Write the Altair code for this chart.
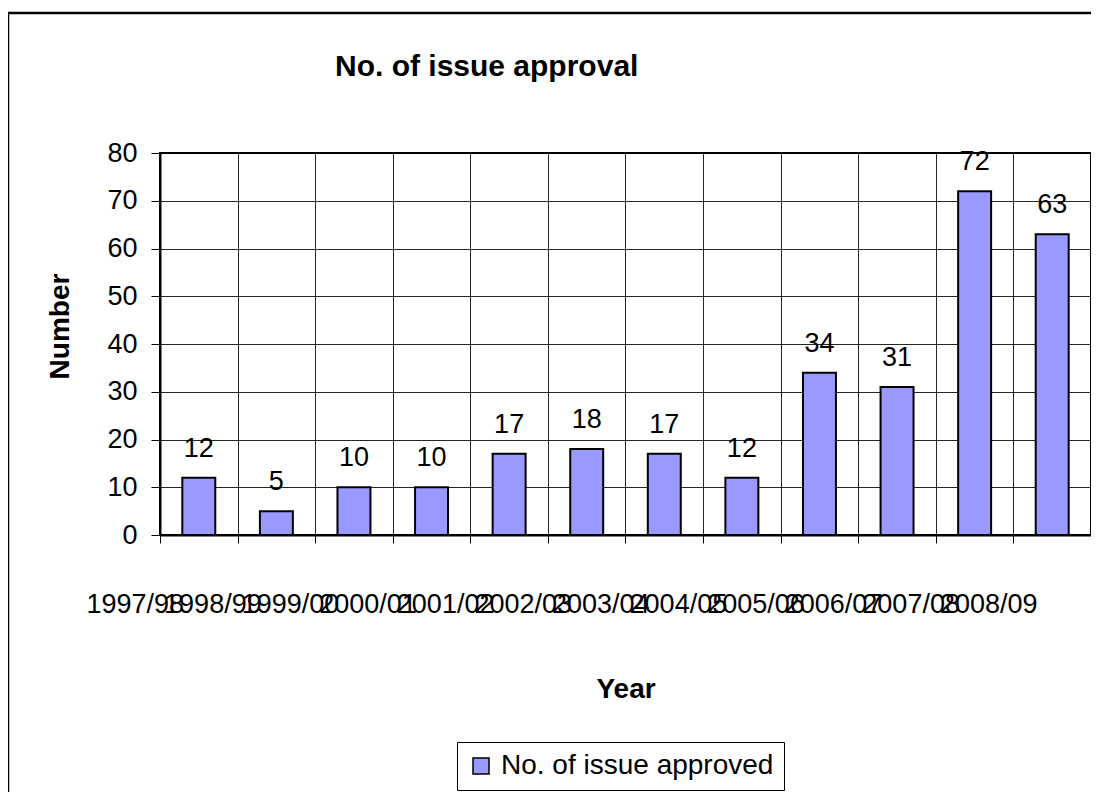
import altair as alt
import pandas as pd

# ---- data ----
years = ["1997/98", "1998/99", "1999/00", "2000/01", "2001/02", "2002/03",
         "2003/04", "2004/05", "2005/06", "2006/07", "2007/08", "2008/09"]
approvals = [12, 5, 10, 10, 17, 18, 17, 12, 34, 31, 72, 63]
series_name = "No. of issue approved"
y_ticks = [0, 10, 20, 30, 40, 50, 60, 70, 80]

df = pd.DataFrame({"Year": years, "Number": approvals, "Series": [series_name] * len(years)})
frame_df = pd.DataFrame({"k": [0]})

FONT = "Liberation Sans"
W, H = 931, 382

x_enc = alt.X(
    "Year:N", sort=years,
    scale=alt.Scale(paddingInner=0, paddingOuter=0),
    axis=alt.Axis(
        title="Year", tickBand="extent", labelAngle=0, labelOverlap=False,
        labelOffset=-64, labelPadding=69, labelBaseline="alphabetic",
        labelFontSize=27, tickSize=8, titleFontSize=28, titleFontWeight="bold",
        titleX=W / 2, titleY=162, titleBaseline="alphabetic", titleAlign="center",
        labelBound=False, labelFlush=False,
    ),
)
y_enc = alt.Y(
    "Number:Q",
    scale=alt.Scale(domain=[0, 80], nice=False),
    axis=alt.Axis(
        title="Number", values=y_ticks, labelFontSize=27, labelPadding=14, tickSize=9,
        titleFontSize=28, titleFontWeight="bold", titleX=-92, titleY=173,
        titleBaseline="alphabetic", titleAlign="center", titleAngle=270,
    ),
)

frame = alt.Chart(frame_df).mark_rect(
    fill="transparent", stroke="black", strokeWidth=2.5, clip=False
).encode(
    x=alt.value(-152), y=alt.value(-140), x2=alt.value(W + 40), y2=alt.value(H + 400)
)

bars = alt.Chart(df).mark_bar(
    width=alt.RelativeBandSize(0.425), stroke="black", strokeWidth=2
).encode(
    x=x_enc,
    y=y_enc,
    color=alt.Color(
        "Series:N",
        scale=alt.Scale(range=["#9999FF"]),
        legend=alt.Legend(
            title=None, orient="none", legendX=297, legendY=589,
            symbolType="square", symbolSize=256, symbolStrokeColor="black",
            symbolStrokeWidth=1.5, symbolFillColor="#9999FF",
            labelFontSize=28, labelFont=FONT, labelColor="black", labelOffset=6,
            strokeColor="black", padding=10, labelLimit=400,
        ),
    ),
)

labels = alt.Chart(df).mark_text(
    dy=-21, baseline="alphabetic", fontSize=27, font=FONT, color="black"
).encode(x=alt.X("Year:N", sort=years), y="Number:Q", text="Number:Q")

chart = alt.layer(frame, bars, labels).properties(
    width=W, height=H,
    title=alt.TitleParams(
        "No. of issue approval", anchor="start", frame="group", dx=175, offset=0, dy=94,
        baseline="alphabetic", fontSize=30, font=FONT, fontWeight="bold", color="black",
    ),
    autosize=alt.AutoSizeParams(type="none"),
    padding={"left": 152, "top": 145, "right": 0, "bottom": 257},
    background="white",
).configure_view(
    stroke="black", strokeWidth=2
).configure_axis(
    grid=True, gridColor="black", gridWidth=1, gridOpacity=0.85,
    domainColor="black", domainWidth=2, tickColor="black", tickWidth=1,
    labelColor="black", labelFont=FONT, titleFont=FONT, titleColor="black",
)

chart.save("out.html", embed_options={"renderer": "svg", "actions": False})
